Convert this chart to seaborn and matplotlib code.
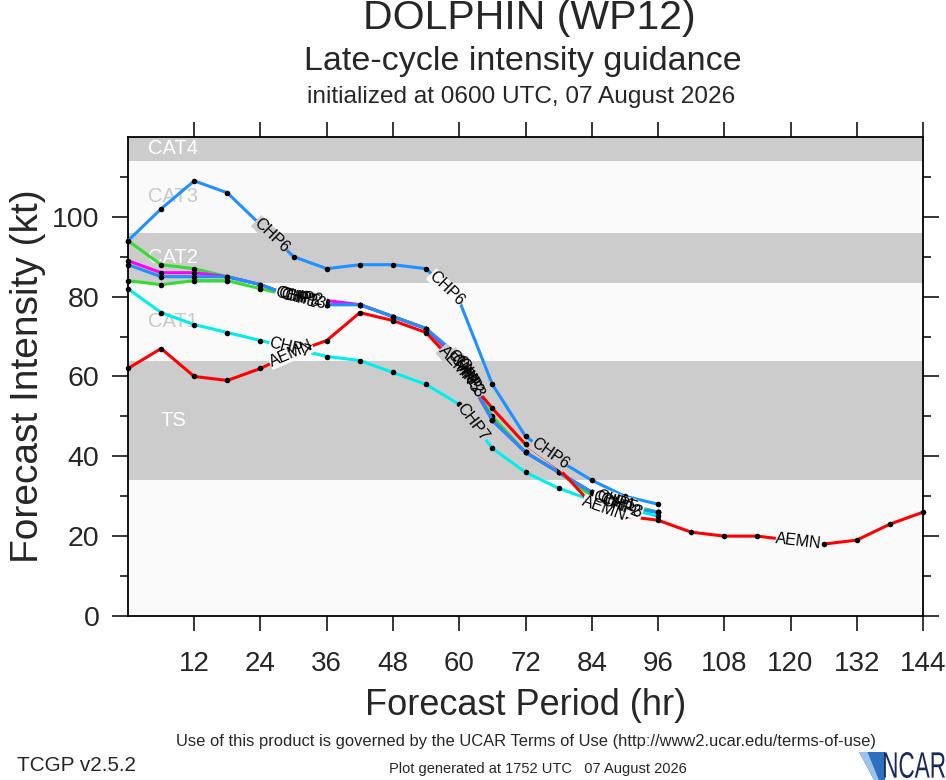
import numpy as np
import matplotlib
matplotlib.use("Agg")
import matplotlib.pyplot as plt
from matplotlib.patches import Polygon, PathPatch
from matplotlib.textpath import TextPath
from matplotlib.font_manager import FontProperties
from matplotlib.transforms import Affine2D, IdentityTransform
from matplotlib import font_manager
import seaborn as sns

# forecast hours
hours = [0, 6, 12, 18, 24, 30, 36, 42, 48, 54, 60, 66, 72, 78, 84, 90, 96]
hours_long = hours + [102, 108, 114, 120, 126, 132, 138, 144]

# intensity (kt)
chp1 = [94, 88, 87, 85, 83, 80, 78, 78, 75, 72, 63, 50, 41, 36, 30, 28, 26]
chp5 = [84, 83, 84, 84, 82, 80, 78, 78, 75, 72, 63, 49, 41, 36, 31, 28, 26]
chp2 = [89, 86, 86, 85, 83, 80, 79, 78, 75, 72, 64, 49, 41, 36, 31, 27, 26]
chp3 = [88, 85, 85, 85, 83, 80, 78, 78, 75, 72, 65, 49, 41, 36, 31, 27, 26]
chp7 = [82, 76, 73, 71, 69, 67, 65, 64, 61, 58, 53, 42, 36, 32, 29, 27, 25]
aemn = [62, 67, 60, 59, 62, 66, 69, 76, 74, 71, 62, 52, 43, 37, 28, 25, 24,
        21, 20, 20, 19, 18, 19, 23, 26]
chp6 = [94, 102, 109, 106, 98, 90, 87, 88, 88, 87, 79, 58, 45, 39, 34, 30, 28]

# where the model names sit along each line (hour)
label_hours = {
    "CHP1": [30.5, 60.5, 88.0],
    "CHP5": [31.0, 61.0, 88.5],
    "CHP2": [31.5, 61.5, 89.0],
    "CHP3": [32.0, 62.0, 89.5],
    "CHP7": [29.4, 62.5],
    "AEMN": [29.5, 59.5, 86.3, 121.5],
    "CHP6": [26.0, 57.7, 76.4],
}

# intensity categories (kt)
cat_names = ["TS", "CAT1", "CAT2", "CAT3", "CAT4"]
cat_lows = [34, 64, 83.5, 96, 114]
cat_highs = [64, 83.5, 96, 114, 137]

GRAY = "#cccccc"
LIGHT = "#fafafa"

sns.set_theme(style="white")
plt.rcParams["font.family"] = ["Liberation Sans", "DejaVu Sans"]

# narrow face for the small print, if it is there
installed = {f.name for f in font_manager.fontManager.ttflist}
narrow = ["Liberation Sans Narrow"] if "Liberation Sans Narrow" in installed else []
small_font = narrow + ["Liberation Sans", "DejaVu Sans"]
sz = 1.0 if narrow else 0.88

fig = plt.figure(figsize=(9.46, 7.80), dpi=100)
ax = fig.add_axes([0.1353, 0.2103, 0.8404, 0.6141])
ax.set_xlim(0, 144)
ax.set_ylim(0, 120)
ax.set_facecolor(LIGHT)

for i, (name, lo, hi) in enumerate(zip(cat_names, cat_lows, cat_highs)):
    gray = (i % 2 == 0)
    if gray:
        ax.axhspan(lo, hi, color=GRAY, lw=0, zorder=0)
    mid = (lo + min(hi, 120)) / 2
    ax.text(8.2, mid, name, ha="center", va="center", fontsize=14.5,
            color="white" if gray else "#c8c8c8", zorder=1)


def band_color(y):
    for i, (lo, hi) in enumerate(zip(cat_lows, cat_highs)):
        if lo <= y < hi:
            return GRAY if i % 2 == 0 else LIGHT
    return LIGHT


series = [
    ("CHP1", hours, chp1, "#33dd33"),
    ("CHP5", hours, chp5, "#33dd33"),
    ("CHP2", hours, chp2, "#ff00ff"),
    ("CHP3", hours, chp3, "#1e90ff"),
    ("CHP7", hours, chp7, "#00eeee"),
    ("AEMN", hours_long, aemn, "#ff0000"),
    ("CHP6", hours, chp6, "#1e90ff"),
]

for k, (name, x, y, col) in enumerate(series):
    sns.lineplot(x=x, y=y, ax=ax, color=col, lw=2.2, marker="o",
                 markersize=4, markerfacecolor="black", markeredgecolor="black",
                 markeredgewidth=0, zorder=2 + k * 0.1, clip_on=False)

# model names along the lines, with a gap cut into the line
for name, x, y, col in series:
    for h in label_hours[name]:
        yv = np.interp(h, x, y)
        p1 = ax.transData.transform((h - 2, np.interp(h - 2, x, y)))
        p2 = ax.transData.transform((h + 2, np.interp(h + 2, x, y)))
        ang = np.degrees(np.arctan2(p2[1] - p1[1], p2[0] - p1[0]))
        ax.text(h, yv, name, rotation=ang, rotation_mode="anchor", ha="center",
                va="center", fontsize=11.5, color="none", zorder=5,
                bbox=dict(facecolor=band_color(yv), edgecolor="none", pad=0.1))
        ax.text(h, yv, name, rotation=ang, rotation_mode="anchor", ha="center",
                va="center", fontsize=11.5, color="black", zorder=6)

ax.set_xticks([12, 24, 36, 48, 60, 72, 84, 96, 108, 120, 132, 144])
ax.set_yticks([0, 20, 40, 60, 80, 100])
ax.set_yticks([10, 30, 50, 70, 90, 110], minor=True)
ax.tick_params(axis="x", which="major", direction="out", length=11, width=1.1,
               top=True, bottom=True, labelsize=20, pad=14, color="black")
ax.tick_params(axis="y", which="major", direction="out", length=11.5, width=1.1,
               left=True, right=True, labelsize=20.5, pad=9, color="black")
ax.tick_params(axis="y", which="minor", direction="out", length=5.8, width=1.1,
               left=True, right=True, color="black")
for sp in ax.spines.values():
    sp.set_color("black")
    sp.set_linewidth(1.3)

ax.set_xlabel("Forecast Period (hr)", fontsize=26, labelpad=8)
ax.set_ylabel("Forecast Intensity (kt)", fontsize=28, labelpad=4)

fig.text(0.560, 0.977, "DOLPHIN (WP12)", ha="center", va="center", fontsize=29.5)
fig.text(0.553, 0.921, "Late-cycle intensity guidance", ha="center", va="center",
         fontsize=24.5)
fig.text(0.551, 0.876, "initialized at 0600 UTC, 07 August 2026", ha="center",
         va="center", fontsize=17.6)

fig.text(0.556, 0.049, "Use of this product is governed by the UCAR Terms of Use "
         "(http://www2.ucar.edu/terms-of-use)", ha="center", va="center",
         fontsize=13.5 * sz, family=small_font)
fig.text(0.018, 0.018, "TCGP v2.5.2", ha="left", va="center",
         fontsize=17 * sz, family=small_font)
fig.text(0.569, 0.014, "Plot generated at 1752 UTC   07 August 2026", ha="center",
         va="center", fontsize=12 * sz, family=small_font)

# NCAR mark: swoosh plus condensed lettering (pixel coordinates)
fig.patches.append(Polygon([[0.908, 0.036], [0.936, 0.036], [0.936, 0.0],
                            [0.924, 0.0]], closed=True, transform=fig.transFigure,
                           facecolor="#2f6fc0", edgecolor="none"))
fig.patches.append(Polygon([[0.908, 0.036], [0.917, 0.036], [0.929, 0.0],
                            [0.924, 0.0]], closed=True, transform=fig.transFigure,
                           facecolor="#9cc4ee", edgecolor="none"))
tp = TextPath((0, 0), "NCAR", size=1, prop=FontProperties(family="Liberation Sans"))
ext = tp.get_extents()
logo_tr = (Affine2D().translate(-ext.x0, -ext.y0)
           .scale(61 / ext.width, 26 / ext.height).translate(884, 2))
fig.patches.append(PathPatch(logo_tr.transform_path(tp), transform=IdentityTransform(),
                             facecolor="#1b2a5c", edgecolor="none"))

fig.savefig("out.png", dpi=100, facecolor="white")
